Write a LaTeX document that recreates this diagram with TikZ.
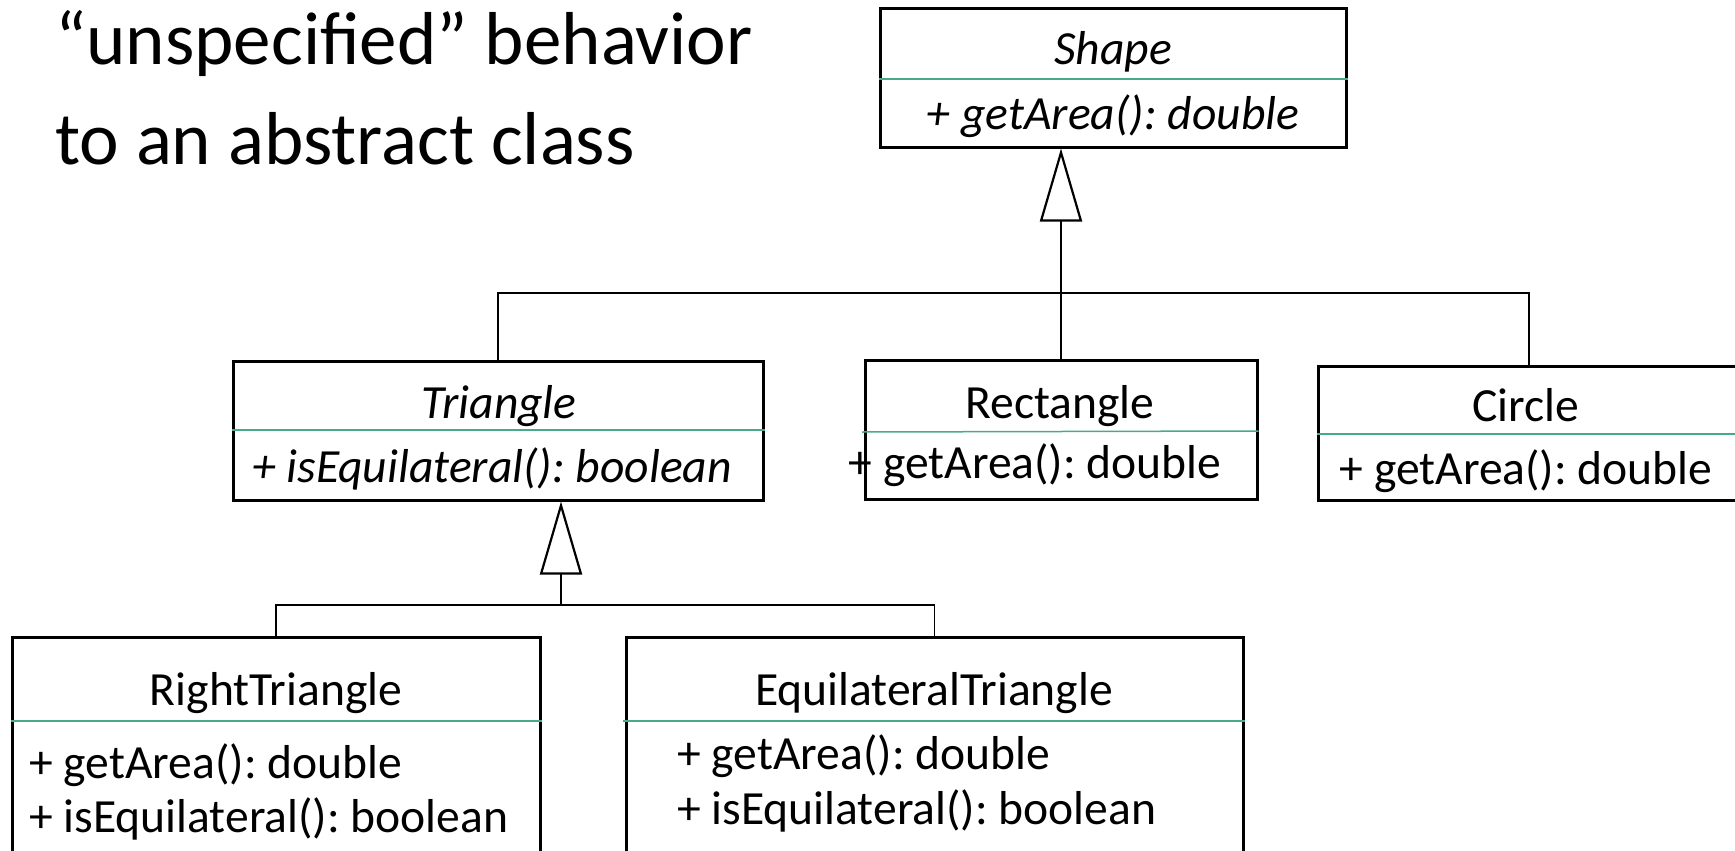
\documentclass[tikz,border=0pt]{standalone}
\usepackage{fontspec}
\setmainfont{Carlito}
\frenchspacing
\usetikzlibrary{arrows.meta}
\definecolor{divteal}{RGB}{72,170,140}
\tikzset{
  classbox/.style={draw, line width=3pt, rectangle, inner sep=0pt},
  classtext/.style={anchor=base, inner sep=0pt, font=\fontsize{47.6}{57}\selectfont},
  membertext/.style={anchor=base west, inner sep=0pt, font=\fontsize{47.6}{57}\selectfont},
  titletext/.style={anchor=base west, inner sep=0pt, font=\fontsize{75}{100}\selectfont},
  divider/.style={line width=1.5pt, color=divteal},
  link/.style={line width=1.5pt},
  inherit/.style={line width=1.5pt, -{Triangle[open, length=73pt, width=42pt, line width=2.2pt]}},
}

\begin{document}
\begin{tikzpicture}[x=1pt, y=-1pt]
		\useasboundingbox (0,0) rectangle (1735,851);
		%%%%% TITLE %%%%%
		\node[titletext] (title1) at (55,64) {“unspecified” behavior};
		\node[titletext] (title2) at (55,164) {to an abstract class};
		
		%%%%% CLASS BOXES %%%%%
		\node[classbox, minimum width=466, minimum height=138] (shape) at (1113,78) {};
		\node[classbox, minimum width=530, minimum height=139] (triangle) at (498,430.5) {};
		\node[classbox, minimum width=392, minimum height=139] (rect) at (1061,429.5) {};
		\node[classbox, minimum width=422, minimum height=134] (circle) at (1529,433) {};
		\node[classbox, minimum width=528, minimum height=233] (righttri) at (276,753.5) {};
		\node[classbox, minimum width=617, minimum height=233] (equitri) at (934.5,753.5) {};
		
		\draw[divider] (shape.west |- 0,79) -- (shape.east |- 0,79);
		\draw[divider] (triangle.west |- 0,430) -- (triangle.east |- 0,430);
		\draw[divider] (862,432) -- (rect.east |- 0,431);
		\draw[divider] (circle.west |- 0,434) -- (circle.east |- 0,434);
		\draw[divider] (righttri.west |- 0,721) -- (righttri.east |- 0,721);
		\draw[divider] (623,721) -- (equitri.east |- 0,721);
		
		%%%%% TEXTS %%%%%
		\node[classtext, font=\fontsize{47.6}{57}\selectfont\itshape] (shapename) at (1113,64) {Shape};
		\node[classtext, font=\fontsize{47.6}{57}\selectfont\itshape] (shapeop) at (1113,129) {+ getArea(): double};
		\node[classtext, font=\fontsize{47.6}{57}\selectfont\itshape] (triname) at (499,418) {Triangle};
		\node[classtext, font=\fontsize{47.6}{57}\selectfont\itshape] (triop) at (492,482) {+ isEquilateral(): boolean};
		\node[classtext] (rectname) at (1060,418) {Rectangle};
		\node[classtext] (rectop) at (1035,478) {+ getArea(): double};
		\node[classtext] (circname) at (1526,421) {Circle};
		\node[classtext] (circop) at (1526,484) {+ getArea(): double};
		\node[classtext] (rtname) at (276,705) {RightTriangle};
		\node[membertext] (rtop1) at (29,778) {+ getArea(): double};
		\node[membertext] (rtop2) at (29,832) {+ isEquilateral(): boolean};
		\node[classtext] (etname) at (934,705) {EquilateralTriangle};
		\node[membertext] (etop1) at (677,769) {+ getArea(): double};
		\node[membertext] (etop2) at (677,824) {+ isEquilateral(): boolean};
		
		%%%%% INHERITANCE %%%%%
		\coordinate (shapejoin) at (1061,293);
		\draw[inherit] (shapejoin) -- (shapejoin |- shape.south);
		\draw[link] (triangle.north) |- (shapejoin) -| (circle.north);
		\draw[link] (rect.north) -- (shapejoin);
		
		\coordinate (trijoin) at (561,605);
		\draw[inherit] (trijoin) -- (trijoin |- triangle.south);
		\draw[link] (righttri.north) |- (trijoin) -| (equitri.north);
		
		%%%%% END %%%%%
	\end{tikzpicture}
\end{document}
